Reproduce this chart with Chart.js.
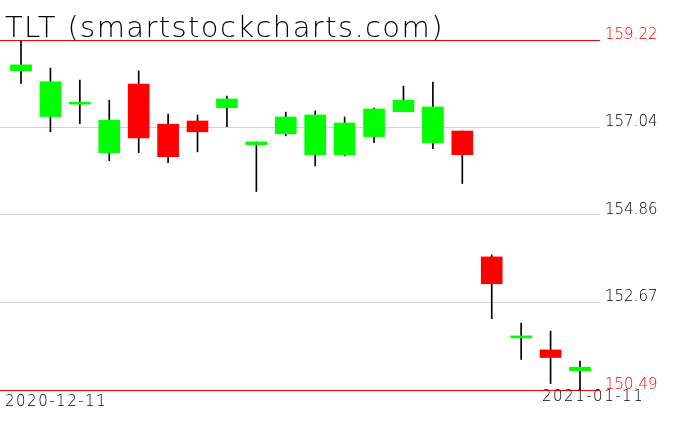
<!DOCTYPE html>
<html><head><meta charset="utf-8">
<script src="https://cdn.jsdelivr.net/npm/chart.js@4"></script>
<style>html,body{margin:0;padding:0;background:#fff;overflow:hidden;}</style>
</head><body>
<canvas id="c" width="676" height="431"></canvas>
<script>
const dates = ["2020-12-11","2020-12-14","2020-12-15","2020-12-16","2020-12-17","2020-12-18","2020-12-21","2020-12-22","2020-12-23","2020-12-24","2020-12-28","2020-12-29","2020-12-30","2020-12-31","2021-01-04","2021-01-05","2021-01-06","2021-01-07","2021-01-08","2021-01-11"];
const opens  = [158.45,157.31,157.62,156.41,158.12,157.12,157.20,157.53,156.61,156.88,156.36,156.36,156.81,157.43,156.66,156.95,153.81,151.79,151.49,150.97];
const highs  = [159.22,158.52,158.22,157.72,158.45,157.37,157.35,157.82,156.68,157.42,157.45,157.30,157.52,158.07,158.17,156.95,153.86,152.16,151.96,151.21];
const lows   = [158.14,156.93,157.13,156.21,156.41,156.16,156.43,157.06,155.44,156.83,156.08,156.33,156.66,157.43,156.51,155.64,152.27,151.25,150.65,150.49];
const closes = [158.60,158.18,157.62,157.22,156.78,156.31,156.93,157.75,156.68,157.30,157.35,157.15,157.50,157.72,157.55,156.36,153.14,151.79,151.30,151.06];
const priceTicks = [150.49,152.67,154.86,157.04,159.22];
const titleText = "TLT (smartstockcharts.com)";
const dateLabels = [dates[0], dates[dates.length-1]];

const UP = '#00ff00', DOWN = '#ff0000';
const idx = dates.map((d,i)=>i);

const textPlugin = {
  id:'texts',
  afterDraw(chart){
    const c = chart.ctx;
    c.save();
    c.fillStyle = '#000';
    c.textAlign = 'left';
    c.textBaseline = 'alphabetic';
    c.font = '200 29px "DejaVu Sans"';
    try { c.letterSpacing = '1.4px'; } catch(e) {}
    c.fillText(titleText, 5, 37);
    c.font = '200 15px "DejaVu Sans"';
    try { c.letterSpacing = '1.5px'; } catch(e) {}
    c.fillText(dateLabels[0], 5, 406);
    c.fillText(dateLabels[1], 542, 401);
    c.restore();
  }
};

new Chart(document.getElementById('c'), {
  type: 'bar',
  data: {
    datasets: [
      {
        label: 'body',
        data: idx.map(i => ({x: i, y: [opens[i], closes[i]]})),
        backgroundColor: idx.map(i => closes[i] >= opens[i] ? UP : DOWN),
        borderWidth: 0,
        barThickness: 21,
        minBarLength: 2,
        grouped: false,
        order: 0
      },
      {
        label: 'wick',
        data: idx.map(i => ({x: i, y: [lows[i], highs[i]]})),
        backgroundColor: '#000000',
        borderWidth: 0,
        barThickness: 1,
        grouped: false,
        order: 1
      }
    ]
  },
  options: {
    responsive: false,
    animation: false,
    devicePixelRatio: 1,
    layout: { padding: { top: 40, bottom: 41, left: 0, right: 0 } },
    plugins: { legend: { display: false }, tooltip: { enabled: false }, title: { display: false } },
    scales: {
      x: { type: 'linear', min: -0.714, max: 19.68, display: false, offset: false },
      y: {
        position: 'right',
        min: priceTicks[0],
        max: priceTicks[priceTicks.length-1],
        afterBuildTicks: s => { s.ticks = priceTicks.map(v => ({value: v})); },
        afterFit: s => { s.width = 76; },
        border: { display: false },
        grid: {
          color: c => (c.index === 0 || c.index === priceTicks.length-1) ? '#ff0000' : '#d3d3d3',
          drawTicks: false,
          lineWidth: 1
        },
        ticks: {
          color: c => (c.index === 0 || c.index === priceTicks.length-1) ? '#ff0000' : '#000000',
          font: { family: 'DejaVu Sans', size: 15, weight: '200' },
          padding: 5,
          labelOffset: -5,
          callback: v => Number(v).toFixed(2)
        }
      }
    }
  },
  plugins: [textPlugin]
});
</script>
</body></html>
